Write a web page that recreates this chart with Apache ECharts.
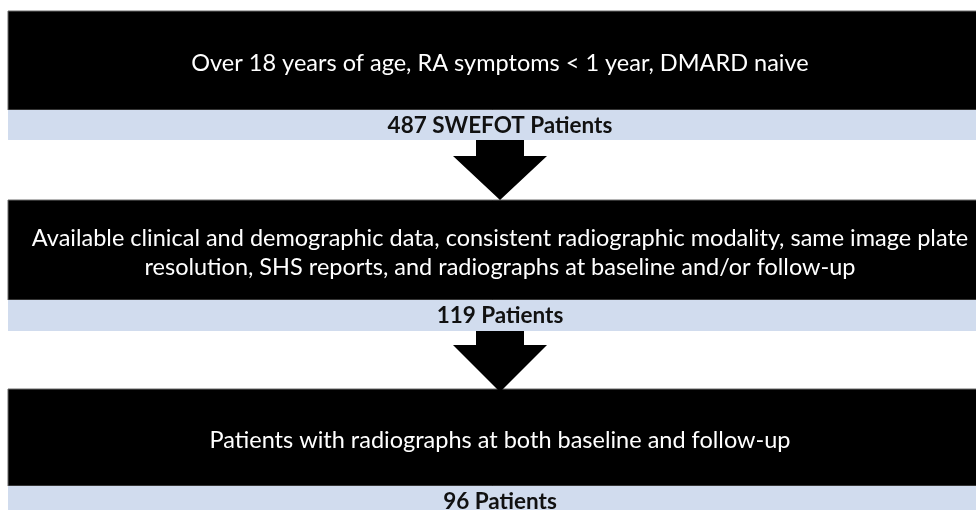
<!DOCTYPE html>
<html>
<head>
<meta charset="utf-8">
<script src="https://cdn.jsdelivr.net/npm/echarts@6/dist/echarts.min.js"></script>
<style>
  html, body { margin: 0; padding: 0; background: #fff; }
  #chart { width: 976px; height: 510px; }
</style>
</head>
<body>
<div id="chart"></div>
<script>
// flow steps: criteria text (lines) and patient counts
var stepTexts = [
  ['Over 18 years of age, RA symptoms < 1 year, DMARD naive'],
  ['Available clinical and demographic data, consistent radiographic modality, same image plate',
   'resolution, SHS reports, and radiographs at baseline and/or follow-up'],
  ['Patients with radiographs at both baseline and follow-up']
];
var stepCounts = ['487 SWEFOT Patients', '119 Patients', '96 Patients'];

// layout of each step block (top of black box, bottom of black box, bottom of blue band)
var boxTop = [11, 200, 389];
var boxBottom = [110, 300, 486];
var bandBottom = [140, 331, 520];
var boxLeft = 8, boxRight = 992, cx = 500;

var chart = echarts.init(document.getElementById('chart'));
var elements = [];

for (var i = 0; i < stepTexts.length; i++) {
  elements.push({
    type: 'rect',
    shape: { x: boxLeft, y: boxTop[i], width: boxRight - boxLeft, height: boxBottom[i] - boxTop[i] },
    style: { fill: '#000', stroke: '#6b6b6b', lineWidth: 1 }
  });
  elements.push({
    type: 'rect',
    shape: { x: boxLeft, y: boxBottom[i], width: boxRight - boxLeft, height: bandBottom[i] - boxBottom[i] },
    style: { fill: '#d1dcee' }
  });
  var mid = (boxTop[i] + boxBottom[i]) / 2 + 3;
  var lines = stepTexts[i];
  var lh = 29;
  for (var j = 0; j < lines.length; j++) {
    elements.push({
      type: 'text',
      x: cx,
      y: mid + (j - (lines.length - 1) / 2) * lh,
      style: {
        text: lines[j], fill: '#fff', font: '23.5px Lato',
        align: 'center', verticalAlign: 'middle'
      }
    });
  }
  elements.push({
    type: 'text',
    x: cx,
    y: boxBottom[i] + 16,
    style: {
      text: stepCounts[i], fill: '#111', font: 'bold 22.5px Lato',
      align: 'center', verticalAlign: 'middle'
    }
  });
  if (i < stepTexts.length - 1) {
    var y0 = bandBottom[i];
    var yTip = boxTop[i + 1] + (i === 0 ? 0 : 3);
    var yHead = y0 + (i === 0 ? 16 : 14);
    elements.push({
      type: 'polygon',
      shape: {
        points: [
          [cx - 24, y0], [cx + 24, y0], [cx + 24, yHead], [cx + 47, yHead],
          [cx, yTip], [cx - 47, yHead], [cx - 24, yHead]
        ]
      },
      style: { fill: '#000' },
      z: 10
    });
  }
}

chart.setOption({
  backgroundColor: '#fff',
  animation: false,
  graphic: elements
});
</script>
</body>
</html>
